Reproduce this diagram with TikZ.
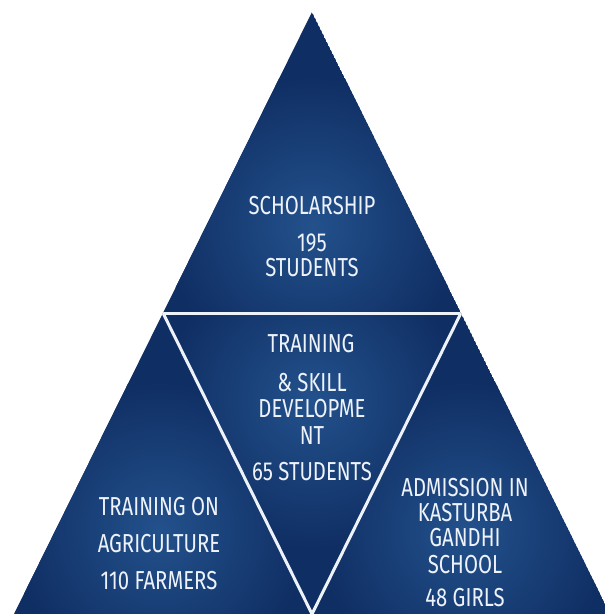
\documentclass[tikz,border=0pt]{standalone}
\usepackage{fontspec}
\newfontfamily\decofont[FakeStretch=0.78]{Fira Sans}
\definecolor{navy}{HTML}{0F2E63}
\definecolor{navylight}{HTML}{23518C}
\definecolor{sepwhite}{HTML}{EEF3FA}
\definecolor{txtwhite}{HTML}{EEF3FB}
\begin{document}
\begin{tikzpicture}[x=1pt,y=-1pt,
  lbl/.style={text=txtwhite, font=\decofont\fontsize{26}{28}\selectfont, inner sep=0pt, anchor=center},
  sepline/.style={draw=sepwhite, line width=3pt, line join=miter}]
\useasboundingbox (0,0) rectangle (605,614);
\fill[white] (0,0) rectangle (605,614);
\coordinate (A) at (312,12);
\coordinate (BL) at (14,614);
\coordinate (BR) at (610,614);
\coordinate (ML) at (163,313);
\coordinate (MR) at (461,313);
\coordinate (MB) at (312,614);
% top triangle
\begin{scope}
  \clip (A) -- (ML) -- (MR) -- cycle;
  \fill[navy] (A) -- (ML) -- (MR) -- cycle;
  \shade[inner color=navylight, outer color=navy] (312,225) circle (150);
\end{scope}
% middle triangle
\begin{scope}
  \clip (ML) -- (MR) -- (MB) -- cycle;
  \fill[navy] (ML) -- (MR) -- (MB) -- cycle;
  \shade[inner color=navylight, outer color=navy] (312,400) circle (150);
\end{scope}
% left triangle
\begin{scope}
  \clip (ML) -- (MB) -- (BL) -- cycle;
  \fill[navy] (ML) -- (MB) -- (BL) -- cycle;
  \shade[inner color=navylight, outer color=navy] (160,530) circle (150);
\end{scope}
% right triangle
\begin{scope}
  \clip (MR) -- (BR) -- (MB) -- cycle;
  \fill[navy] (MR) -- (BR) -- (MB) -- cycle;
  \shade[inner color=navylight, outer color=navy] (465,530) circle (150);
\end{scope}
% separators
\begin{scope}
  \clip (A) -- (BL) -- (BR) -- cycle;
  \draw[sepline] (ML) -- (MR);
  \draw[sepline] (ML) -- (MB);
  \draw[sepline] (MR) -- (MB);
\end{scope}
% texts
\node[lbl] (t1) at (312,206) {SCHOLARSHIP};
\node[lbl] (t2) at (312,243) {195};
\node[lbl] (t3) at (312,268) {STUDENTS};
\node[lbl] (m1) at (311,344) {TRAINING};
\node[lbl] (m2) at (312,383) {\& SKILL};
\node[lbl] (m3) at (312,409) {DEVELOPME};
\node[lbl] (m4) at (312,436) {NT};
\node[lbl] (m5) at (312,472) {65 STUDENTS};
\node[lbl] (l1) at (159,507) {TRAINING ON};
\node[lbl] (l2) at (159,544) {AGRICULTURE};
\node[lbl] (l3) at (159,581) {110 FARMERS};
\node[lbl] (r1) at (465,488) {ADMISSION IN};
\node[lbl] (r2) at (465,513) {KASTURBA};
\node[lbl] (r3) at (465,538) {GANDHI};
\node[lbl] (r4) at (465,565) {SCHOOL};
\node[lbl] (r5) at (465,598) {48 GIRLS};
\end{tikzpicture}
\end{document}
